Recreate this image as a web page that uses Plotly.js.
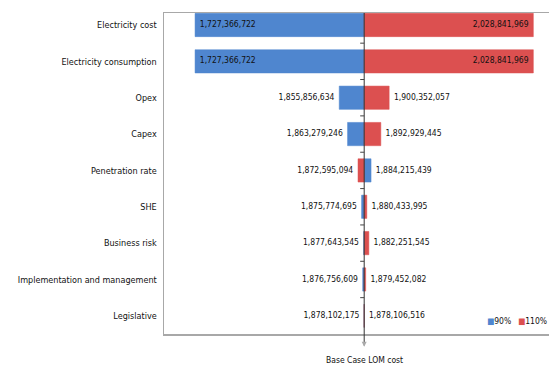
<!DOCTYPE html>
<html>
<head>
<meta charset="utf-8">
<script src="https://cdn.plot.ly/plotly-3.0.1.min.js"></script>
<style>
  html, body { margin: 0; padding: 0; background: #fff; }
  #chart { width: 549px; height: 368px; }
</style>
</head>
<body>
<div id="chart"></div>
<script>
// Sensitivity drivers, top to bottom
const categories = [
  'Electricity cost',
  'Electricity consumption',
  'Opex',
  'Capex',
  'Penetration rate',
  'SHE',
  'Business risk',
  'Implementation and management',
  'Legislative'
];

// LOM cost with each driver at 90% and at 110%
const cost90 = [1727366722, 1727366722, 1855856634, 1863279246, 1884215439,
                1875774695, 1877643545, 1876756609, 1878102175];
const cost110 = [2028841969, 2028841969, 1900352057, 1892929445, 1872595094,
                 1880433995, 1882251545, 1879452082, 1878106516];

// Base case LOM cost (centre of the tornado)
const baseCase = 1878104345.5;

const seriesNames = ['90%', '110%'];
const seriesColors = ['#4f86cf', '#dc5050'];

const fmt = v => Math.round(v).toLocaleString('en-US');
const fontFamily = 'DejaVu Sans Condensed, Liberation Sans Narrow, Arial Narrow, sans-serif';
const labelFont = { family: fontFamily, size: 8.5, color: '#111' };

// Long bars carry their label inside the far end, short bars just past it
const isInside = v => Math.abs(v - baseCase) > 100e6;
const labelPos = v => {
  const left = v < baseCase;
  if (isInside(v)) return left ? 'middle right' : 'middle left';
  return left ? 'middle left' : 'middle right';
};

const bars = [cost90, cost110].map((vals, i) => ({
  type: 'bar',
  orientation: 'h',
  name: seriesNames[i],
  y: categories,
  x: vals.map(v => v - baseCase),
  base: vals.map(() => baseCase),
  width: 0.64,
  marker: { color: seriesColors[i], line: { color: seriesColors[i], width: 0.5 } },
  showlegend: false,
  hoverinfo: 'skip'
}));

// Value labels at the end of every bar
const labels = [cost90, cost110].map(vals => ({
  type: 'scatter',
  mode: 'markers+text',
  x: vals,
  y: categories,
  text: vals.map(fmt),
  textposition: vals.map(labelPos),
  textfont: labelFont,
  marker: { size: 6, color: 'rgba(0,0,0,0)' },
  cliponaxis: false,
  showlegend: false,
  hoverinfo: 'skip'
}));

// Tick marks on the base-case axis at every category boundary
const boundaryTicks = [];
for (let k = 0; k < categories.length; k++) {
  boundaryTicks.push({
    type: 'line', xref: 'x', yref: 'y',
    xsizemode: 'pixel', xanchor: baseCase, x0: -4, x1: 0,
    y0: k - 0.5, y1: k - 0.5,
    line: { color: '#444', width: 1 }
  });
}

// Compact legend: coloured square followed by the series name
const legendItems = seriesNames.map((name, i) => ({
  xref: 'paper', yref: 'paper',
  x: [0.835, 0.915][i], y: 0.04, xanchor: 'left', yanchor: 'middle',
  text: '<span style="color:' + seriesColors[i] + '">■</span>' + name,
  showarrow: false,
  font: { family: fontFamily, size: 8.5, color: '#111' }
}));

const layout = {
  width: 549, height: 368,
  margin: { l: 164, r: 0, t: 13, b: 34 },
  paper_bgcolor: '#fff', plot_bgcolor: '#fff',
  barmode: 'overlay',
  showlegend: false,
  xaxis: {
    range: [1699.7e6, 2042.8e6],
    showticklabels: false, ticks: '', showgrid: false, zeroline: false,
    showline: true, mirror: true, linecolor: '#a8a8a8', linewidth: 1.5,
    fixedrange: true
  },
  yaxis: {
    type: 'category',
    range: [8.5, -0.33],
    showgrid: false, zeroline: false, ticks: '',
    showline: true, linecolor: '#a8a8a8', linewidth: 1.5,
    tickfont: { family: fontFamily, size: 9, color: '#111' },
    ticklabelstandoff: 4,
    fixedrange: true
  },
  shapes: [
    {
      type: 'line', xref: 'x', yref: 'paper',
      x0: baseCase, x1: baseCase, y0: -0.035, y1: 1,
      line: { color: '#333', width: 1 }
    },
    ...boundaryTicks
  ],
  annotations: [
    {
      xref: 'x', yref: 'paper', x: baseCase, y: -0.04,
      text: '', showarrow: true, arrowhead: 2, arrowsize: 1, arrowwidth: 1,
      arrowcolor: '#aaa', ax: 0, ay: -6
    },
    {
      xref: 'x', yref: 'paper', x: baseCase, y: -0.06,
      xanchor: 'center', yanchor: 'top',
      text: 'Base Case LOM cost', showarrow: false,
      font: { family: fontFamily, size: 8.5, color: '#111' }
    },
    ...legendItems
  ]
};

Plotly.newPlot('chart', [...bars, ...labels], layout, { displayModeBar: false, staticPlot: true });
</script>
</body>
</html>
